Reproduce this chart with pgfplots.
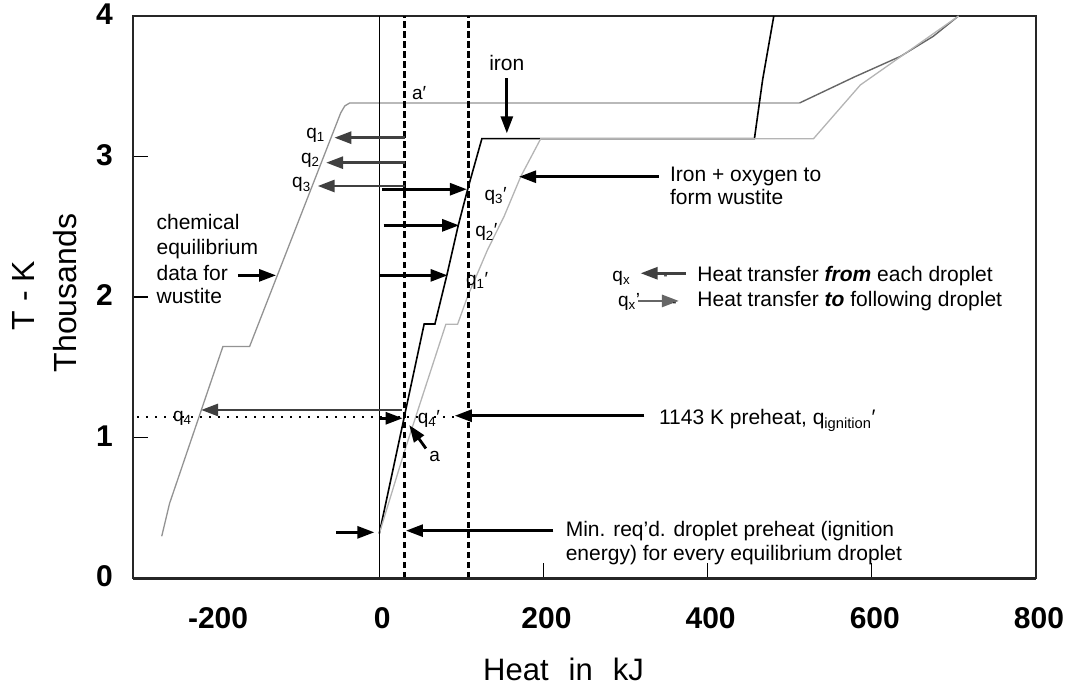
\documentclass[border=0pt]{standalone}
\usepackage{fontspec}
\setmainfont{Liberation Sans}
\usepackage{pgfplots}
\pgfplotsset{compat=1.18}
\usetikzlibrary{arrows.meta}
\definecolor{chemgray}{HTML}{939393}
\definecolor{chemdark}{HTML}{666666}
\definecolor{ltgray}{HTML}{B4B4B4}
\definecolor{arrgray}{HTML}{404040}
\definecolor{leggray}{HTML}{666666}
\newcommand{\af}{\fontsize{21}{25}\selectfont}
\newcommand{\qf}{\fontsize{19}{23}\selectfont}
\begin{document}
\begin{tikzpicture}[
  arr/.style={line width=2.8pt, -{Triangle[length=17pt,width=12pt]}},
  lab/.style={inner sep=0pt, anchor=base west}]
\begin{axis}[
  scale only axis, width=903pt, height=562pt,
  xmin=-300, xmax=800, ymin=0, ymax=4,
  clip=false,
  axis line style={line width=1.5pt, black!85},
  xtick={0,200,400,600,800}, xticklabels={0,200,400,600,800},
  extra x ticks={-200}, extra x tick labels={-200},
  extra x tick style={major tick length=0pt},
  ytick={0,1,2,3,4}, yticklabels={0,1,2,3,4},
  tick pos=left, tick align=inside, major tick length=15pt,
  tick style={line width=1.2pt, black},
  tick label style={font=\fontsize{30}{30}\selectfont\bfseries},
  xticklabel style={anchor=base, inner sep=0pt, yshift=-50pt, xshift=3pt},
  yticklabel style={anchor=east, inner sep=0pt, xshift=-20pt, yshift=1.5pt},
]
% chemical equilibrium data for wustite
\addplot[chemgray, line width=1.3pt] coordinates {(-265,0.297) (-255.5,0.53) (-190.5,1.647) (-158,1.647) (-47,3.31) (-42,3.36) (-36,3.381) (512,3.381)};
\addplot[chemdark, line width=1.4pt] coordinates {(512,3.381) (578,3.564) (635,3.713) (675,3.856) (705.6,4.0)};
% iron
\addplot[black, line width=1.6pt] coordinates {(0,0.316) (54.7,1.808) (67.8,1.808) (82.4,2.157) (96.1,2.507) (107.5,2.763) (125,3.127) (457,3.127) (467,3.547) (480.6,4.0)};
% iron + oxygen to form wustite
\addplot[ltgray, line width=1.3pt] coordinates {(0,0.316) (30.5,0.898) (81.1,1.806) (95.4,1.806) (107.5,2.003) (131.9,2.336) (152,2.573) (172.4,2.858) (196.7,3.127) (529,3.127) (586,3.509) (705.6,4.0)};

% vertical reference lines
\draw[black, line width=1.2pt] (axis cs:0,0) -- (axis cs:0,4);
\draw[black, line width=3pt, dash pattern=on 6.5pt off 3.5pt] (axis cs:31.3,0) -- (axis cs:31.3,4);
\draw[black, line width=3pt, dash pattern=on 6.5pt off 3.5pt] (axis cs:108.3,0) -- (axis cs:108.3,4);
\draw[black, line width=1.8pt, dash pattern=on 1.8pt off 7.2pt] (axis cs:-295,1.148) -- (axis cs:93,1.148);
\draw[line width=3pt, black!85] (rel axis cs:0,0) -- (rel axis cs:1,0);

% arrows from each droplet
\draw[arr, arrgray] (axis cs:31.3,3.134) -- (axis cs:-54.7,3.134);
\draw[arr, arrgray] (axis cs:31.3,2.956) -- (axis cs:-64.8,2.956);
\draw[arr, arrgray] (axis cs:31.3,2.790) -- (axis cs:-75,2.790);
\draw[arr, arrgray] (axis cs:27.6,1.196) -- (axis cs:-217,1.196);
% arrows to following droplet
\draw[arr, black] (axis cs:3.3,2.767) -- (axis cs:106.7,2.767);
\draw[arr, black] (axis cs:5.3,2.510) -- (axis cs:97.3,2.510);
\draw[arr, black] (axis cs:0,2.154) -- (axis cs:83.2,2.154);
\draw[arr, black] (axis cs:0,1.137) -- (axis cs:28.5,1.137);
% other annotation arrows
\draw[arr, black] (axis cs:56.8,0.922) -- (axis cs:36.5,1.088);
\draw[arr, black] (axis cs:-52.7,0.325) -- (axis cs:-6,0.325);
\draw[arr, black] (axis cs:212,0.337) -- (axis cs:32.5,0.337);
\draw[arr, black] (axis cs:323,1.155) -- (axis cs:92,1.155);
\draw[arr, black] (axis cs:155.4,3.557) -- (axis cs:155.4,3.165);
\draw[arr, black] (axis cs:340.6,2.856) -- (axis cs:170.3,2.856);
\draw[arr, black] (axis cs:-172.3,2.154) -- (axis cs:-125.7,2.154);
% legend arrows
\draw[arr, arrgray] (axis cs:373.2,2.169) -- (axis cs:318.4,2.169);
\draw[arr, leggray] (axis cs:315,1.972) -- (axis cs:365,1.972);

% texts
\node[lab, font=\af] at (axis cs:-271.5,2.477) {chemical};
\node[lab, font=\af] at (axis cs:-271.5,2.299) {equilibrium};
\node[lab, font=\af] at (axis cs:-271.5,2.121) {data for};
\node[lab, font=\af] at (axis cs:-271.5,1.954) {wustite};
\node[inner sep=0pt, anchor=base, font=\af] at (axis cs:155.4,3.609) {iron};
\node[lab, font=\qf] at (axis cs:39.8,3.407) {a′};
\node[lab, font=\qf] at (axis cs:-89,3.13) {q\textsubscript{1}};
\node[lab, font=\qf] at (axis cs:-95.4,2.95) {q\textsubscript{2}};
\node[lab, font=\qf] at (axis cs:-106.3,2.778) {q\textsubscript{3}};
\node[lab, font=\qf] at (axis cs:128,2.69) {q\textsubscript{3}′};
\node[lab, font=\qf] at (axis cs:116.8,2.429) {q\textsubscript{2}′};
\node[lab, font=\qf] at (axis cs:105.5,2.085) {q\textsubscript{1}′};
\node[lab, font=\qf] at (axis cs:-251.5,1.112) {q\textsubscript{4}};
\node[lab, font=\qf] at (axis cs:46.8,1.10) {q\textsubscript{4}′};
\node[lab, font=\qf] at (axis cs:60.9,0.827) {a};
\node[lab, font=\af] at (axis cs:354,2.821) {Iron + oxygen to};
\node[lab, font=\af] at (axis cs:354,2.655) {form wustite};
\node[lab, font=\qf] at (axis cs:283.8,2.109) {q\textsubscript{x}};
\node[lab, font=\qf] at (axis cs:290.6,1.931) {q\textsubscript{x}’};
\node[lab, font=\fontsize{12}{12}\selectfont] at (axis cs:346,2.125) {-};
\node[lab, font=\fontsize{12}{12}\selectfont] at (axis cs:357,1.93) {-};
\node[lab, font=\af] at (axis cs:387.4,2.109) {Heat transfer \textbf{\textit{from}} each droplet};
\node[lab, font=\af] at (axis cs:387.4,1.931) {Heat transfer \textbf{\textit{to}} following droplet};
\node[lab, font=\af] at (axis cs:340.6,1.089) {1143 K preheat, q\textsubscript{ignition}′};
\node[lab, font=\af] at (axis cs:227,0.294) {Min. req’d. droplet preheat (ignition};
\node[lab, font=\af] at (axis cs:227,0.123) {energy) for every equilibrium droplet};
\end{axis}
% axis titles
\node[rotate=90, anchor=base, inner sep=0pt, font=\fontsize{32}{32}\selectfont] at (-98pt,282.5pt) {T - K};
\node[rotate=90, anchor=base, inner sep=0pt, font=\fontsize{32}{32}\selectfont] at (-56pt,285pt) {Thousands};
\node[anchor=base, inner sep=0pt, font=\fontsize{31}{31}\selectfont] at (430.5pt,-102pt) {Heat\hspace{20pt}in\hspace{20pt}kJ};
\pgfresetboundingbox
\path[use as bounding box] (-133pt,-108pt) rectangle (935pt,578pt);
\end{tikzpicture}
\end{document}
